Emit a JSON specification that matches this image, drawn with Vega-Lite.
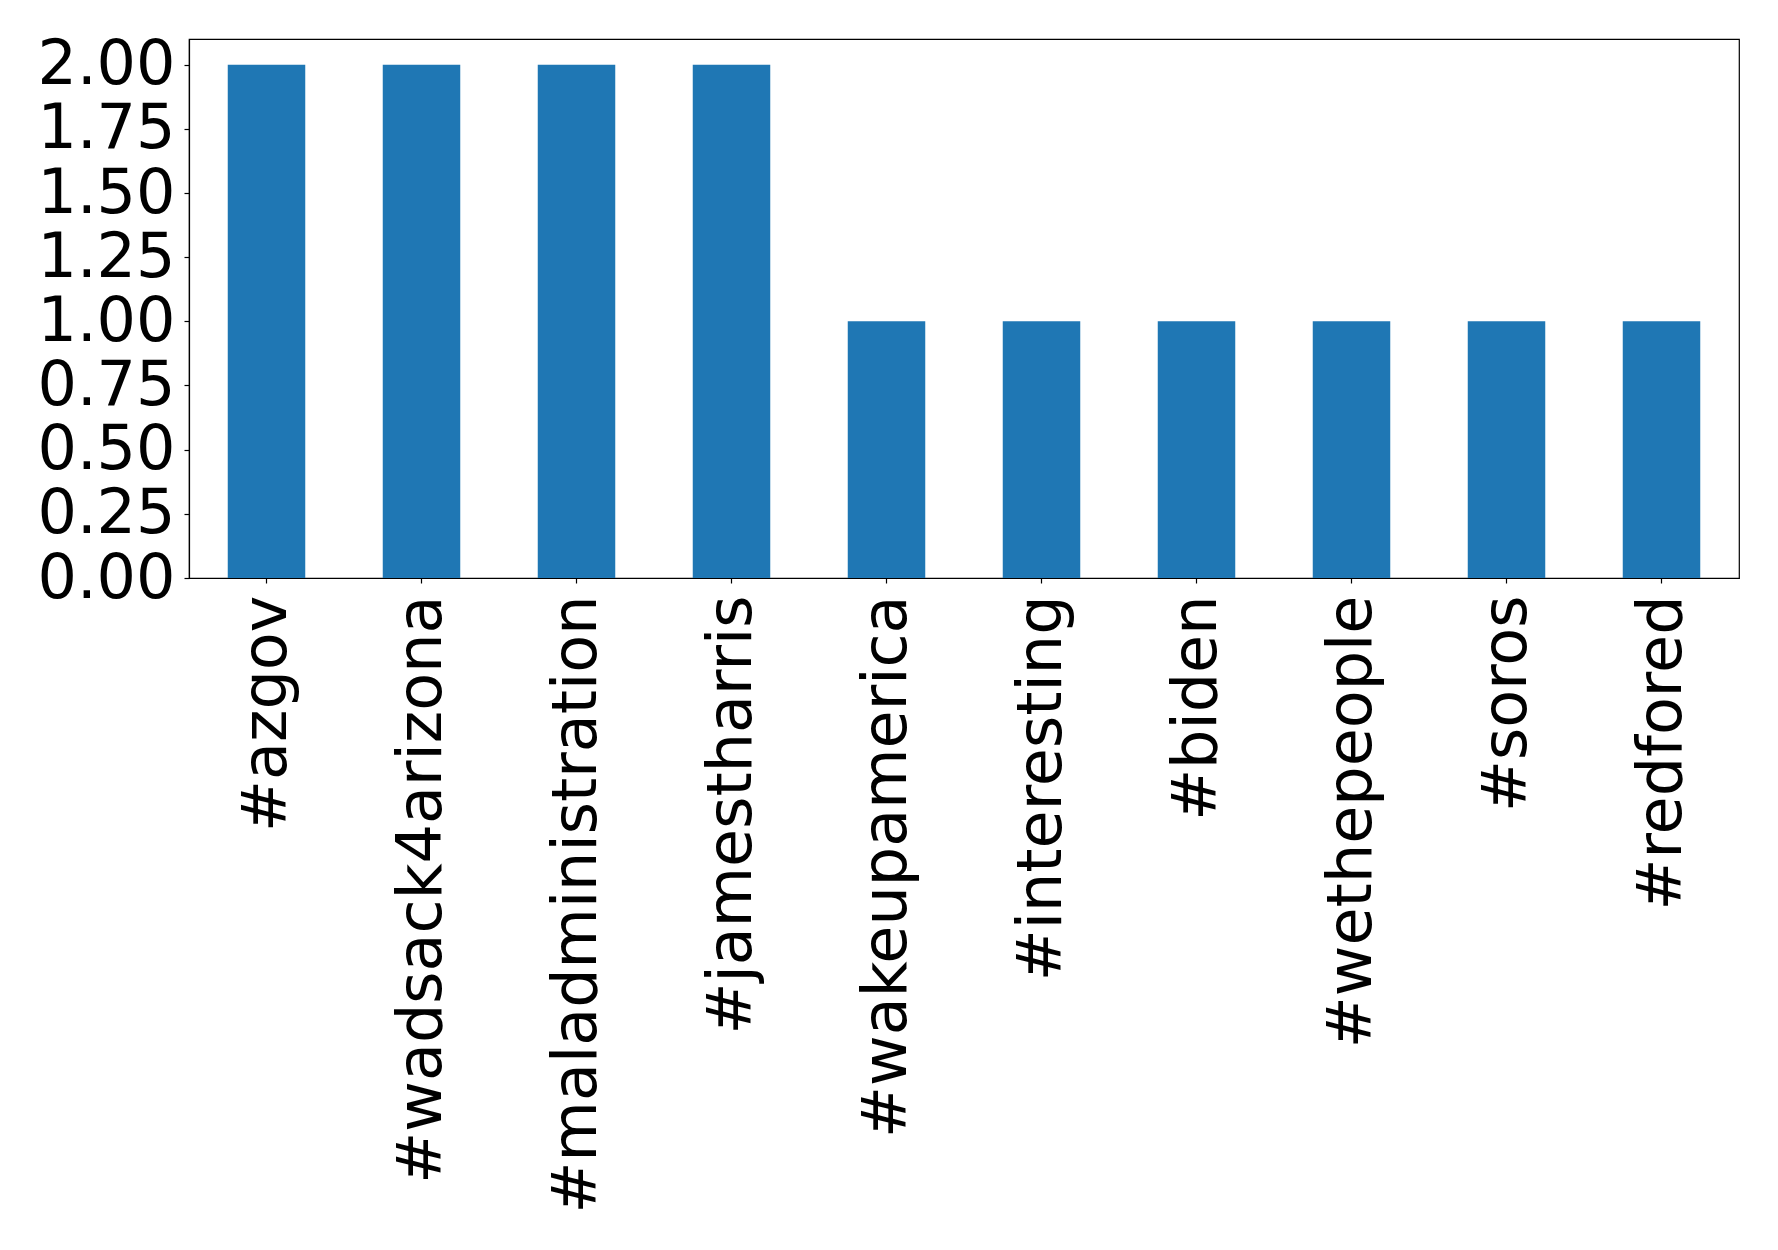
{
  "$schema": "https://vega.github.io/schema/vega-lite/v6.json",
  "autosize": "none",
  "width": 1550,
  "height": 539,
  "padding": {"left": 189, "top": 39, "right": 39, "bottom": 633},
  "background": "white",
  "data": {
    "values": [
      {"hashtag": "#azgov", "count": 2},
      {"hashtag": "#wadsack4arizona", "count": 2},
      {"hashtag": "#maladministration", "count": 2},
      {"hashtag": "#jamestharris", "count": 2},
      {"hashtag": "#wakeupamerica", "count": 1},
      {"hashtag": "#interesting", "count": 1},
      {"hashtag": "#biden", "count": 1},
      {"hashtag": "#wethepeople", "count": 1},
      {"hashtag": "#soros", "count": 1},
      {"hashtag": "#redfored", "count": 1}
    ]
  },
  "mark": {"type": "bar", "color": "#1f77b4"},
  "encoding": {
    "x": {
      "field": "hashtag",
      "type": "nominal",
      "sort": null,
      "scale": {"paddingInner": 0.5, "paddingOuter": 0.25},
      "axis": {
        "title": null,
        "labelAngle": -90,
        "labelFont": "DejaVu Sans",
        "labelFontSize": 62,
        "labelColor": "black",
        "labelPadding": 12,
        "tickSize": 5,
        "tickColor": "black",
        "domainColor": "black",
        "labelLimit": 0
      }
    },
    "y": {
      "field": "count",
      "type": "quantitative",
      "scale": {"domain": [0, 2.1], "nice": false},
      "axis": {
        "title": null,
        "values": [0, 0.25, 0.5, 0.75, 1, 1.25, 1.5, 1.75, 2],
        "format": ".2f",
        "grid": false,
        "labelFont": "DejaVu Sans",
        "labelFontSize": 62,
        "labelColor": "black",
        "labelPadding": 9,
        "tickSize": 5,
        "tickColor": "black",
        "domainColor": "black"
      }
    }
  },
  "config": {
    "view": {"stroke": "black", "strokeWidth": 1.2},
    "axis": {"domainWidth": 1.2, "tickWidth": 1.2}
  }
}
